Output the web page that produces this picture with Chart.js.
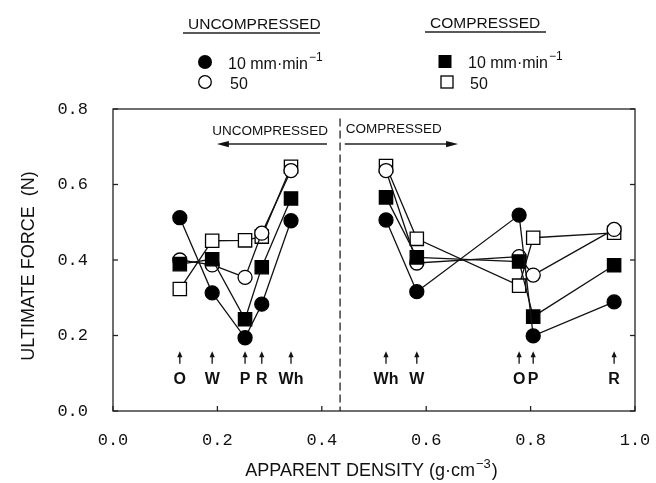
<!DOCTYPE html>
<html><head><meta charset="utf-8">
<script src="https://cdn.jsdelivr.net/npm/chart.js@4.4.0/dist/chart.umd.min.js"></script>
<style>html,body{margin:0;padding:0;background:#fff;}#wrap{width:656px;height:483px;}</style>
</head><body><div id="wrap"><canvas id="c" width="656" height="483"></canvas></div>
<script>
// ---- data ----
const leftSamples  = ['O','W','P','R','Wh'];
const leftDensity  = [0.128, 0.190, 0.253, 0.285, 0.341];
const rightSamples = ['Wh','W','O','P','R'];
const rightDensity = [0.523, 0.582, 0.778, 0.805, 0.960];

// uncompressed 10 mm/min (filled circle)
const unc10Left  = [0.512, 0.313, 0.194, 0.283, 0.504];
const unc10Right = [0.506, 0.316, 0.519, 0.199, 0.289];
// uncompressed 50 (open circle)
const unc50Left  = [0.400, 0.387, 0.354, 0.471, 0.637];
const unc50Right = [0.637, 0.392, 0.409, 0.360, 0.481];
// compressed 10 mm/min (filled square)
const cmp10Left  = [0.389, 0.402, 0.243, 0.381, 0.563];
const cmp10Right = [0.566, 0.407, 0.396, 0.250, 0.386];
// compressed 50 (open square)
const cmp50Left  = [0.323, 0.451, 0.452, 0.462, 0.647];
const cmp50Right = [0.649, 0.456, 0.332, 0.459, 0.472];

const xTicks = [0, 0.2, 0.4, 0.6, 0.8, 1.0];
const yTicks = [0, 0.2, 0.4, 0.6, 0.8];
const dividerDensity = 0.435;

const yTitle = 'ULTIMATE FORCE  (N)';
const xTitleMain = 'APPARENT DENSITY (g\u00B7cm';
const xTitleSup = '\u22123';
const legendHeads = ['UNCOMPRESSED', 'COMPRESSED'];
const rateLabels = ['10 mm\u00B7min', '50'];
const rateSup = '\u22121';
const regionLabels = ['UNCOMPRESSED', 'COMPRESSED'];

// ---- build datasets ----
function pts(xs, ys){ return xs.map((x,i)=>({x:x, y:ys[i]})); }
const series = [
  {key:'unc10', L:unc10Left, R:unc10Right, shape:'circle', fill:'#000', r:7,   order:1},
  {key:'cmp10', L:cmp10Left, R:cmp10Right, shape:'rect',   fill:'#000', r:9.4, order:2},
  {key:'unc50', L:unc50Left, R:unc50Right, shape:'circle', fill:'#fff', r:7,   order:3},
  {key:'cmp50', L:cmp50Left, R:cmp50Right, shape:'rect',   fill:'#fff', r:9.4, order:4}
];
const datasets = [];
series.forEach(s=>{
  [[leftDensity, s.L],[rightDensity, s.R]].forEach(([xs, ys])=>{
    datasets.push({
      label: s.key,
      data: pts(xs, ys),
      showLine: true,
      borderColor: '#111',
      borderWidth: 1.3,
      pointStyle: s.shape,
      pointRadius: s.r,
      pointHoverRadius: s.r,
      pointBackgroundColor: s.fill,
      pointBorderColor: '#000',
      pointBorderWidth: 1.3,
      order: s.order
    });
  });
});

const SANS = '"Liberation Sans", Arial, sans-serif';
const MONO = '"Liberation Mono", "DejaVu Sans Mono", monospace';

function line(ctx, x1, y1, x2, y2){ ctx.beginPath(); ctx.moveTo(x1,y1); ctx.lineTo(x2,y2); ctx.stroke(); }
function arrowHead(ctx, tx, ty, dx, dy, len, half){
  const bx = tx - dx*len, by = ty - dy*len;
  ctx.beginPath();
  ctx.moveTo(tx, ty);
  ctx.lineTo(bx - dy*half, by + dx*half);
  ctx.lineTo(bx + dy*half, by - dx*half);
  ctx.closePath(); ctx.fill();
}
function textWithSup(ctx, x, y, main, sup, size, align){
  ctx.font = size + 'px ' + SANS;
  const w1 = ctx.measureText(main).width;
  ctx.font = Math.round(size*0.72) + 'px ' + SANS;
  const w2 = ctx.measureText(sup).width;
  const total = w1 + w2 + 1;
  let sx = x;
  if (align === 'center') sx = x - total/2;
  ctx.textAlign = 'left'; ctx.textBaseline = 'alphabetic';
  ctx.font = size + 'px ' + SANS;
  ctx.fillText(main, sx, y);
  ctx.font = Math.round(size*0.72) + 'px ' + SANS;
  ctx.fillText(sup, sx + w1 + 1, y - size*0.45);
  return sx + w1 + w2 + 1;
}

const deco = {
  id: 'deco',
  beforeDraw(chart){
    const ctx = chart.ctx;
    ctx.save(); ctx.fillStyle = '#fff'; ctx.fillRect(0,0,chart.width,chart.height); ctx.restore();
  },
  afterDraw(chart){
    const {ctx, chartArea:a, scales:{x, y}} = chart;
    ctx.save();
    ctx.strokeStyle = '#222'; ctx.fillStyle = '#111'; ctx.lineWidth = 1.3;
    // frame
    ctx.strokeRect(a.left, a.top, a.right - a.left, a.bottom - a.top);
    // inward ticks
    yTicks.forEach(v=>{
      const py = y.getPixelForValue(v);
      line(ctx, a.left, py, a.left + 5, py);
      line(ctx, a.right, py, a.right - 5, py);
    });
    xTicks.forEach(v=>{
      const px = x.getPixelForValue(v);
      line(ctx, px, a.bottom, px, a.bottom - 5);
    });
    // divider
    const dx = x.getPixelForValue(dividerDensity);
    ctx.setLineDash([8,4]);
    line(ctx, dx, y.getPixelForValue(0.775), dx, a.bottom);
    ctx.setLineDash([]);

    // region annotations
    ctx.font = '13.5px ' + SANS; ctx.textBaseline = 'middle'; ctx.textAlign = 'center';
    ctx.fillText(regionLabels[0], x.getPixelForValue(0.301), y.getPixelForValue(0.742));
    ctx.fillText(regionLabels[1], x.getPixelForValue(0.538), y.getPixelForValue(0.745));
    const ay = y.getPixelForValue(0.707);
    ctx.lineWidth = 1.5;
    line(ctx, x.getPixelForValue(0.410), ay, x.getPixelForValue(0.207), ay);
    arrowHead(ctx, x.getPixelForValue(0.199), ay, -1, 0, 12, 3.2);
    line(ctx, x.getPixelForValue(0.444), ay, x.getPixelForValue(0.652), ay);
    arrowHead(ctx, x.getPixelForValue(0.661), ay, 1, 0, 12, 3.2);

    // sample markers (small arrows + letters)
    ctx.lineWidth = 1.4;
    const y1 = y.getPixelForValue(0.125), y2 = y.getPixelForValue(0.158), yl = y.getPixelForValue(0.084);
    ctx.font = 'bold 16px ' + SANS; ctx.textAlign = 'center'; ctx.textBaseline = 'middle';
    [[leftDensity, leftSamples],[rightDensity, rightSamples]].forEach(([xs, labs])=>{
      xs.forEach((v,i)=>{
        const px = x.getPixelForValue(v);
        line(ctx, px, y1, px, y2 + 4);
        arrowHead(ctx, px, y2, 0, -1, 6, 2.6);
        ctx.fillText(labs[i], px, yl);
      });
    });

    // y title
    ctx.save();
    ctx.translate(34, 266); ctx.rotate(-Math.PI/2);
    ctx.font = '18px ' + SANS; ctx.textAlign = 'center'; ctx.textBaseline = 'alphabetic';
    ctx.fillText(yTitle, 0, 0);
    ctx.restore();

    // x title
    ctx.fillStyle = '#111';
    const endX = textWithSup(ctx, 368, 476, xTitleMain, xTitleSup, 18, 'center');
    ctx.font = '18px ' + SANS; ctx.fillText(')', endX + 1, 476);

    // legend
    ctx.textAlign = 'left'; ctx.textBaseline = 'middle';
    ctx.font = '15.5px ' + SANS;
    ctx.fillText(legendHeads[0], 188, 25);
    ctx.fillText(legendHeads[1], 430, 24);
    ctx.lineWidth = 1.5;
    line(ctx, 183, 33, 320, 33);
    line(ctx, 425, 32, 546, 32);
    ctx.lineWidth = 1.3; ctx.strokeStyle = '#000';
    ctx.fillStyle = '#000';
    ctx.beginPath(); ctx.arc(205, 62, 7, 0, Math.PI*2); ctx.fill();
    ctx.fillStyle = '#fff';
    ctx.beginPath(); ctx.arc(205, 82, 6.3, 0, Math.PI*2); ctx.fill(); ctx.stroke();
    ctx.fillStyle = '#000';
    ctx.fillRect(438.5, 55, 13, 13);
    ctx.fillStyle = '#fff';
    ctx.fillRect(441, 76, 12, 12); ctx.strokeRect(441, 76, 12, 12);
    ctx.fillStyle = '#111';
    textWithSup(ctx, 228, 68.5, rateLabels[0], rateSup, 16, 'left');
    textWithSup(ctx, 468, 67.5, rateLabels[0], rateSup, 16, 'left');
    ctx.font = '16px ' + SANS; ctx.textBaseline = 'alphabetic';
    ctx.fillText(rateLabels[1], 230, 88.5);
    ctx.fillText(rateLabels[1], 470, 88.5);
    ctx.restore();
  }
};

new Chart(document.getElementById('c'), {
  type: 'scatter',
  data: { datasets: datasets },
  options: {
    responsive: false,
    animation: false,
    events: [],
    layout: { padding: { left: 0, right: 21, top: 109, bottom: 0 } },
    plugins: { legend: { display: false }, tooltip: { enabled: false } },
    scales: {
      x: {
        type: 'linear', min: 0, max: 1,
        afterFit(s){ s.height = 72; s.paddingLeft = 0; s.paddingRight = 0; },
        afterBuildTicks(s){ s.ticks = xTicks.map(v=>({value:v})); },
        grid: { display: false, drawTicks: false },
        border: { display: false },
        ticks: { padding: 19, color: '#111', font: { family: MONO, size: 17 },
                 maxRotation: 0, autoSkip: false, callback: v => Number(v).toFixed(1) }
      },
      y: {
        type: 'linear', min: 0, max: 0.8,
        afterFit(s){ s.width = 113; s.paddingTop = 0; s.paddingBottom = 0; },
        afterBuildTicks(s){ s.ticks = yTicks.map(v=>({value:v})); },
        grid: { display: false, drawTicks: false },
        border: { display: false },
        ticks: { padding: 25, color: '#111', font: { family: MONO, size: 17 },
                 autoSkip: false, callback: v => Number(v).toFixed(1) }
      }
    }
  },
  plugins: [deco]
});
</script>
</body></html>
